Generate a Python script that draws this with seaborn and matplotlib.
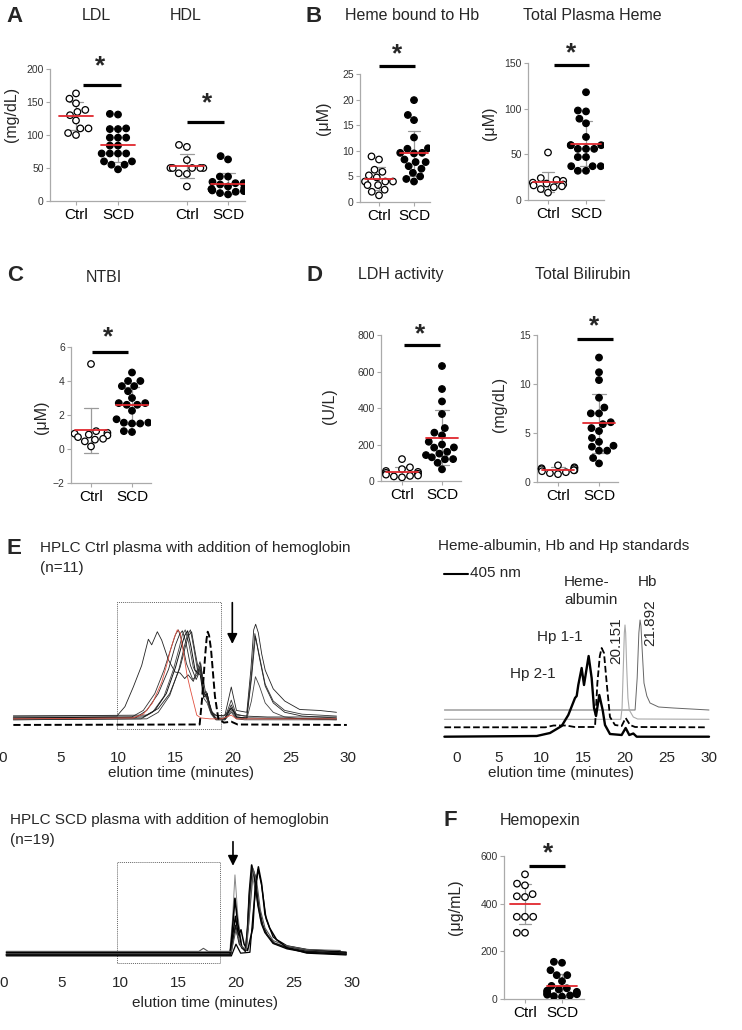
import numpy as np
import pandas as pd
import matplotlib
matplotlib.use("Agg")
import matplotlib.pyplot as plt
from matplotlib.patches import Rectangle
from matplotlib.lines import Line2D
import seaborn as sns

# ---------------- dot plot data ----------------
ldl_ctrl = [163, 155, 148, 138, 135, 130, 122, 110, 110, 103, 100]
ldl_scd = [132, 131, 110, 109, 109, 96, 96, 96, 84, 84, 72, 72, 72, 72, 60, 60, 55, 55, 48]
hdl_ctrl = [85, 82, 62, 50, 50, 50, 50, 50, 42, 41, 22]
hdl_scd = [68, 63, 37, 37, 29, 27, 27, 25, 22, 20, 20, 18, 18, 17, 16, 15, 14, 12, 10]

hemehb_ctrl = [8.9, 8.3, 6.3, 5.9, 5.2, 4.8, 4.0, 4.0, 4.0, 3.3, 3.3, 2.4, 2.0, 1.3]
hemehb_scd = [19.9, 17.0, 16.0, 12.6, 10.5, 10.4, 9.6, 9.6, 9.5, 8.3, 7.8, 7.8, 7.0, 6.5, 5.7, 5.0, 4.5, 4.0]
totheme_ctrl = [52, 24, 22, 21, 19, 18, 17, 16, 15, 14, 12, 8]
totheme_scd = [118, 98, 97, 89, 84, 69, 60, 60, 60, 56, 56, 56, 47, 47, 37, 37, 37, 32, 32]

ntbi_ctrl = [5.0, 1.05, 0.95, 0.9, 0.85, 0.8, 0.7, 0.6, 0.55, 0.45, 0.15]
ntbi_scd = [4.5, 4.0, 4.0, 3.7, 3.7, 3.4, 3.0, 2.7, 2.7, 2.6, 2.6, 2.25, 1.75, 1.55, 1.55, 1.5, 1.5, 1.05, 1.0]

ldh_ctrl = [120, 75, 65, 55, 50, 45, 40, 35, 30, 28, 25, 20]
ldh_scd = [630, 504, 436, 367, 290, 265, 250, 215, 200, 184, 183, 160, 150, 142, 130, 120, 119, 100, 64]
bili_ctrl = [1.7, 1.5, 1.4, 1.4, 1.3, 1.2, 1.2, 1.1, 1.0, 0.9, 0.8]
bili_scd = [12.7, 11.2, 10.4, 8.6, 7.6, 7.0, 7.0, 6.1, 5.9, 5.5, 5.2, 4.5, 4.1, 3.7, 3.6, 3.2, 3.2, 2.45, 1.9]

hpx_ctrl = [523, 484, 477, 440, 431, 428, 345, 345, 345, 278, 278]
hpx_scd = [156, 152, 121, 100, 100, 75, 55, 45, 40, 35, 30, 30, 25, 22, 20, 18, 15, 12, 10]

# ---------------- HPLC traces (time in min, absorbance in arbitrary units) ----------------
# Ctrl plasma + Hb
ctrl_broad_t = [0.9, 9.9, 10.6, 11.33, 12.06, 12.64, 12.93, 13.42, 13.8, 14.38, 14.96, 15.4, 15.8, 16.1,
                16.55, 17.13, 17.57, 18.0, 18.43, 19.2, 19.83, 20.3, 21.0, 23.0, 26.0, 29.0]
ctrl_broad_y = [0.06, 0.06, 0.16, 0.37, 0.6, 0.88, 0.82, 0.96, 0.87, 0.66, 0.53, 0.52, 0.46, 0.5,
                0.43, 0.64, 0.34, 0.12, 0.07, 0.06, 0.14, 0.08, 0.06, 0.05, 0.05, 0.05]
ctrl_m1_t = [0.9, 11.2, 12.2, 13.2, 14.0, 14.65, 15.0, 15.25, 15.55, 15.95, 16.5, 16.9, 17.15, 17.45, 17.7,
             18.1, 18.5, 19.3, 19.85, 20.3, 21.2, 21.6, 21.9, 22.3, 22.8, 23.5, 24.5, 26.0, 29.0]
ctrl_m1_y = [0.04, 0.05, 0.12, 0.3, 0.55, 0.8, 0.93, 0.98, 0.86, 0.62, 0.45, 0.5, 0.6, 0.3, 0.32,
             0.12, 0.04, 0.04, 0.23, 0.07, 0.06, 0.5, 0.94, 0.7, 0.4, 0.22, 0.12, 0.08, 0.06]
ctrl_m2_t = [0.9, 11.5, 12.5, 13.5, 14.4, 15.0, 15.35, 15.6, 15.9, 16.3, 16.8, 17.15, 17.45, 17.75, 18.1,
             18.5, 19.3, 19.85, 20.3, 21.2, 21.6, 21.95, 22.3, 22.8, 23.5, 24.5, 26.0, 29.0]
ctrl_m2_y = [0.03, 0.04, 0.12, 0.3, 0.56, 0.82, 0.93, 0.97, 0.85, 0.6, 0.45, 0.55, 0.28, 0.3, 0.1,
             0.03, 0.03, 0.18, 0.05, 0.04, 0.45, 0.91, 0.68, 0.38, 0.2, 0.1, 0.06, 0.04]
ctrl_m3_t = [0.9, 12.0, 13.0, 14.0, 14.8, 15.35, 15.6, 15.85, 16.15, 16.55, 16.9, 17.15, 17.45, 17.75,
             18.1, 18.5, 19.3, 19.85, 20.3, 21.2, 21.6, 21.95, 22.3, 22.8, 23.5, 24.5, 26.0, 29.0]
ctrl_m3_y = [0.02, 0.03, 0.1, 0.27, 0.55, 0.8, 0.93, 0.98, 0.84, 0.58, 0.5, 0.58, 0.25, 0.2,
             0.08, 0.02, 0.02, 0.12, 0.04, 0.03, 0.22, 0.48, 0.38, 0.2, 0.1, 0.05, 0.03, 0.02]
ctrl_m4_t = [0.9, 12.2, 13.2, 14.2, 15.0, 15.55, 15.8, 16.05, 16.35, 16.7, 17.15, 17.45, 17.75, 18.1,
             18.5, 19.3, 19.85, 20.3, 21.0, 29.0]
ctrl_m4_y = [0.04, 0.05, 0.12, 0.3, 0.58, 0.82, 0.92, 0.97, 0.8, 0.55, 0.5, 0.26, 0.3, 0.1,
             0.03, 0.03, 0.15, 0.05, 0.04, 0.03]
ctrl_m5_t = [0.9, 12.5, 13.5, 14.5, 15.3, 15.8, 16.05, 16.3, 16.6, 16.95, 17.2, 17.5, 17.8, 18.15,
             18.55, 19.3, 19.85, 20.3, 21.0, 29.0]
ctrl_m5_y = [0.02, 0.03, 0.1, 0.28, 0.56, 0.82, 0.93, 0.98, 0.78, 0.52, 0.62, 0.3, 0.22, 0.08,
             0.02, 0.02, 0.1, 0.03, 0.02, 0.02]
ctrl_m6_t = [0.9, 12.5, 13.5, 14.5, 15.4, 15.9, 16.15, 16.4, 16.7, 17.0, 17.2, 17.5, 17.8, 18.2, 18.6,
             19.3, 19.85, 20.3, 21.2, 21.55, 21.8, 21.97, 22.2, 22.5, 22.8, 23.5, 24.5, 25.8, 27.5, 29.0]
ctrl_m6_y = [0.06, 0.07, 0.14, 0.3, 0.58, 0.82, 0.92, 0.96, 0.75, 0.55, 0.55, 0.3, 0.25, 0.1, 0.06,
             0.07, 0.37, 0.12, 0.1, 0.55, 0.98, 1.04, 0.95, 0.72, 0.55, 0.35, 0.22, 0.13, 0.12, 0.1]
ctrl_red_t = [0.9, 11.3, 12.2, 13.0, 13.8, 14.2, 14.6, 14.9, 15.16, 15.4, 15.7, 16.0, 16.3, 16.85, 17.2,
              18.0, 19.0, 19.85, 20.3, 21.0, 29.0]
ctrl_red_y = [0.03, 0.04, 0.08, 0.2, 0.42, 0.59, 0.78, 0.9, 0.98, 0.95, 0.73, 0.5, 0.34, 0.07, 0.04,
              0.03, 0.03, 0.07, 0.03, 0.03, 0.03]
ctrl_dash_t = [0.9, 17.1, 17.3, 17.57, 17.7, 17.8, 17.92, 18.09, 18.43, 18.72, 19.2, 19.85, 20.4, 29.9]
ctrl_dash_y = [-0.035, -0.03, 0.23, 0.69, 0.88, 0.96, 0.92, 0.77, 0.27, 0.035, -0.01, 0.0, -0.03, -0.035]

# standards
hb_std_t = [-1.5, 21.2, 21.45, 21.65, 21.79, 21.9, 22.0, 22.26, 22.6, 22.98, 24.0, 25.75, 30.0]
hb_std_y = [0.28, 0.28, 0.6, 1.05, 1.18, 1.12, 0.95, 0.55, 0.42, 0.35, 0.31, 0.3, 0.28]
ha_std_t = [-1.5, 19.5, 19.65, 19.8, 19.92, 20.0, 20.08, 20.2, 20.35, 20.51, 20.99, 21.5, 30.0]
ha_std_y = [0.187, 0.187, 0.3, 0.71, 1.05, 1.13, 1.05, 0.71, 0.4, 0.28, 0.21, 0.19, 0.187]
hp11_t = [-1.5, 10.5, 11.5, 13.0, 14.0, 16.43, 16.71, 17.0, 17.22, 17.5, 17.82, 18.21, 18.81, 19.6,
          20.08, 20.6, 21.2, 29.6]
hp11_y = [0.107, 0.107, 0.125, 0.125, 0.11, 0.11, 0.55, 0.82, 0.9, 0.85, 0.55, 0.21, 0.13, 0.12,
          0.2, 0.13, 0.11, 0.107]
hp21_t = [-1.5, 9.49, 11.07, 12.46, 13.25, 14.05, 14.25, 14.44, 14.84, 15.12, 15.44, 15.67, 16.03, 16.31,
          16.55, 16.94, 17.34, 17.62, 18.21, 19.6, 20.08, 20.51, 20.99, 21.39, 30.0]
hp21_y = [0.013, 0.02, 0.05, 0.12, 0.23, 0.4, 0.42, 0.53, 0.7, 0.53, 0.7, 0.82, 0.6, 0.3,
          0.22, 0.43, 0.28, 0.13, 0.04, 0.03, 0.1, 0.03, 0.045, 0.013, 0.013]

# SCD plasma + Hb
scd_s1_t = [0.2, 19.45, 19.7, 19.91, 20.15, 20.5, 20.85, 21.1, 21.4, 21.7, 22.1, 22.5, 23.2, 24.4, 26.1, 29.5]
scd_s1_y = [0.02, 0.02, 0.4, 0.89, 0.45, 0.1, 0.06, 0.35, 0.88, 0.7, 0.4, 0.26, 0.14, 0.09, 0.05, 0.03]
scd_s2_t = [0.2, 19.5, 19.7, 19.91, 20.15, 20.5, 20.85, 21.0, 21.15, 21.35, 21.6, 21.9, 22.2, 22.5, 23.2,
            24.4, 26.1, 29.5]
scd_s2_y = [0.0, 0.0, 0.3, 0.63, 0.35, 0.08, 0.05, 0.3, 0.7, 1.0, 0.85, 0.55, 0.35, 0.25, 0.13,
            0.07, 0.03, 0.01]
scd_s3_t = [0.2, 19.5, 19.75, 19.95, 20.2, 20.43, 20.7, 21.0, 21.45, 21.65, 21.93, 22.2, 22.5, 22.9, 23.5,
            24.4, 26.1, 29.5]
scd_s3_y = [0.03, 0.03, 0.25, 0.43, 0.22, 0.28, 0.12, 0.05, 0.3, 0.75, 0.98, 0.8, 0.45, 0.3, 0.17,
            0.1, 0.06, 0.03]
scd_s4_t = [0.2, 19.55, 19.95, 20.3, 20.8, 21.0, 21.15, 21.4, 21.65, 21.95, 22.3, 22.7, 23.3, 24.4, 26.1, 29.5]
scd_s4_y = [0.01, 0.01, 0.33, 0.12, 0.04, 0.3, 0.65, 0.97, 0.88, 0.55, 0.33, 0.22, 0.13, 0.08, 0.04, 0.02]
scd_s5_t = [0.2, 16.8, 17.19, 17.6, 19.6, 20.0, 20.4, 20.9, 21.2, 21.5, 21.8, 22.1, 22.5, 23.2, 24.0,
            24.4, 26.1, 29.0]
scd_s5_y = [0.04, 0.04, 0.074, 0.04, 0.04, 0.28, 0.1, 0.06, 0.5, 0.95, 0.8, 0.5, 0.3, 0.16, 0.12,
            0.1, 0.06, 0.05]
scd_s6_t = [0.2, 19.6, 20.0, 20.4, 21.2, 21.5, 21.9, 22.2, 22.6, 23.2, 24.4, 26.1, 29.5]
scd_s6_y = [-0.01, -0.01, 0.12, 0.02, 0.03, 0.5, 0.95, 0.78, 0.4, 0.2, 0.08, 0.02, 0.0]

# ---------------- style ----------------
sns.set_style("ticks")
plt.rcParams["font.family"] = ["Liberation Sans", "DejaVu Sans"]

W, H = 742, 1030
fig = plt.figure(figsize=(W / 100, H / 100), dpi=100)

RED = "#e0282e"
PAL = {"Ctrl": "white", "SCD": "black"}


def px_ax(x0, y0, x1, y1):
    return fig.add_axes([x0 / W, 1 - y1 / H, (x1 - x0) / W, (y1 - y0) / H])


def ftext(x, y, s, **kw):
    kw.setdefault("va", "center")
    fig.text(x / W, 1 - y / H, s, **kw)


def style_dot_ax(ax):
    sns.despine(ax=ax)
    for sp in ("left", "bottom"):
        ax.spines[sp].set_color("#aaaaaa")
        ax.spines[sp].set_linewidth(0.9)
    ax.tick_params(axis="y", labelsize=7.5, labelcolor="#333333", color="#aaaaaa",
                   length=3, width=0.8, pad=1.5)
    ax.tick_params(axis="x", labelsize=11, labelcolor="black", color="#aaaaaa",
                   length=3, width=0.8, pad=2)
    ax.set_xlabel("")
    ax.set_ylabel("")


def mean_sd(ax, pos, vals):
    m = np.mean(vals)
    s = np.std(vals, ddof=1)
    ax.plot([pos, pos], [m - s, m + s], color="#9a9a9a", lw=0.9, zorder=2)
    for yy in (m - s, m + s):
        ax.plot([pos - 0.17, pos + 0.17], [yy, yy], color="#9a9a9a", lw=0.9, zorder=2)
    ax.plot([pos - 0.4, pos + 0.4], [m, m], color=RED, lw=1.3, zorder=5)


def sig(ax, xa, xb, yb, xs, ys):
    ax.plot([xa, xb], [yb, yb], color="black", lw=2.3, clip_on=False,
            solid_capstyle="butt", zorder=6)
    ax.text(xs, ys, "*", ha="center", va="center", fontsize=19, fontweight="bold",
            clip_on=False)


def dot_panel(box, ctrl, scd, ylim, yticks, sigspec):
    x0, x1, ytop, ybot, cx, unit = box
    ax = px_ax(x0, ytop, x1, ybot)
    df = pd.DataFrame({"group": ["Ctrl"] * len(ctrl) + ["SCD"] * len(scd),
                       "value": list(ctrl) + list(scd)})
    sns.swarmplot(data=df, x="group", y="value", hue="group", order=["Ctrl", "SCD"],
                  palette=PAL, size=4.7, edgecolor="black", linewidth=0.9, legend=False,
                  ax=ax, zorder=3)
    mean_sd(ax, 0, ctrl)
    mean_sd(ax, 1, scd)
    ax.set_xlim(-(cx - x0) / unit, (x1 - cx) / unit)
    ax.set_ylim(*ylim)
    ax.set_yticks(yticks)
    ax.set_xticks([0, 1])
    ax.set_xticklabels(["Ctrl", "SCD"])
    style_dot_ax(ax)
    sig(ax, *sigspec)
    return ax


# ---------------- Panel A ----------------
axA = px_ax(50, 69, 245, 201)
posA = {"LDL": (0.0, 1.0), "HDL": (2.64, 3.62)}
rows = []
for lip, (c, s) in (("LDL", (ldl_ctrl, ldl_scd)), ("HDL", (hdl_ctrl, hdl_scd))):
    rows += [(posA[lip][0], v, "Ctrl") for v in c]
    rows += [(posA[lip][1], v, "SCD") for v in s]
dfA = pd.DataFrame(rows, columns=["pos", "value", "group"])
sns.swarmplot(data=dfA, x="pos", y="value", hue="group", native_scale=True, palette=PAL,
              size=4.7, edgecolor="black", linewidth=0.9, legend=False, ax=axA, zorder=3)
for vals, p in ((ldl_ctrl, 0.0), (ldl_scd, 1.0), (hdl_ctrl, 2.64), (hdl_scd, 3.62)):
    mean_sd(axA, p, vals)
axA.set_xlim(-26 / 42, 169 / 42)
axA.set_ylim(0, 200)
axA.set_yticks([0, 50, 100, 150, 200])
axA.set_xticks([0, 1, 2.64, 3.62])
axA.set_xticklabels(["Ctrl", "SCD", "Ctrl", "SCD"])
style_dot_ax(axA)
sig(axA, 0.17, 1.07, 175, 0.57, 204)
sig(axA, 2.64, 3.52, 120, 3.12, 148)

# ---------------- Panels B, C, D, F ----------------
dot_panel((360, 430, 74, 202, 379, 35), hemehb_ctrl, hemehb_scd, (0, 25), [0, 5, 10, 15, 20, 25],
          (0.0, 1.03, 26.6, 0.51, 28.9))
dot_panel((528, 604, 63, 200, 548, 38), totheme_ctrl, totheme_scd, (0, 150), [0, 50, 100, 150],
          (0.16, 1.08, 148, 0.6, 161))
dot_panel((71, 151, 347, 483, 91, 41), ntbi_ctrl, ntbi_scd, (-2, 6), [-2, 0, 2, 4, 6],
          (0.03, 0.9, 5.7, 0.41, 6.55))
dot_panel((381, 461, 335, 481, 402, 40), ldh_ctrl, ldh_scd, (0, 800), [0, 200, 400, 600, 800],
          (0.05, 0.95, 745, 0.45, 805))
dot_panel((537, 618, 335, 482, 558, 41), bili_ctrl, bili_scd, (0, 15), [0, 5, 10, 15],
          (0.46, 1.34, 14.6, 0.88, 15.9))
dot_panel((504, 584, 856, 999, 525, 37), hpx_ctrl, hpx_scd, (0, 600), [0, 200, 400, 600],
          (0.1, 1.08, 558, 0.62, 612))


# ---------------- HPLC panels ----------------
def hplc_ax(box, xlim, ylim):
    ax = px_ax(*box)
    ax.set_xlim(*xlim)
    ax.set_ylim(*ylim)
    for sp in ax.spines.values():
        sp.set_visible(False)
    ax.set_yticks([])
    ax.set_xticks([0, 5, 10, 15, 20, 25, 30])
    ax.tick_params(axis="x", length=0, labelsize=11, pad=4)
    return ax


def trace(ax, t, y, color="black", lw=0.8, ls="-"):
    sns.lineplot(x=t, y=y, ax=ax, color=color, linewidth=lw, linestyle=ls,
                 estimator=None, sort=False)


axE1 = hplc_ax((0, 595, 360, 745), (-3 / 11.5, 357 / 11.5), (-0.249, 1.352))
for t, y, c, lw in ((ctrl_broad_t, ctrl_broad_y, "#222222", 0.6),
                    (ctrl_m1_t, ctrl_m1_y, "#333333", 0.6),
                    (ctrl_m2_t, ctrl_m2_y, "#222222", 0.6),
                    (ctrl_m3_t, ctrl_m3_y, "#444444", 0.6),
                    (ctrl_m4_t, ctrl_m4_y, "#111111", 0.7),
                    (ctrl_m5_t, ctrl_m5_y, "#333333", 0.6),
                    (ctrl_m6_t, ctrl_m6_y, "#222222", 0.6),
                    (ctrl_red_t, ctrl_red_y, "#e05040", 0.6)):
    trace(axE1, t, y, c, lw)
trace(axE1, ctrl_dash_t, ctrl_dash_y, "black", 1.4, "--")
axE1.add_patch(Rectangle((9.89, -0.078), 18.96 - 9.89, 1.277 + 0.078, fill=False,
                         ls=(0, (1, 1)), lw=0.7, ec="#666666"))
axE1.annotate("", xy=(19.94, 0.80), xytext=(19.94, 1.30),
              arrowprops=dict(arrowstyle="-|>", color="black", lw=1.2, mutation_scale=15))

axE2 = hplc_ax((437, 600, 720, 745), (-20 / 8.4, 263 / 8.4), (-0.07, 1.38))
trace(axE2, hb_std_t, hb_std_y, "#666666", 0.7)
trace(axE2, ha_std_t, ha_std_y, "#aaaaaa", 0.8)
trace(axE2, hp11_t, hp11_y, "black", 1.3, "--")
trace(axE2, hp21_t, hp21_y, "black", 1.7)

axE3 = hplc_ax((0, 830, 360, 970), (-4 / 11.6, 356 / 11.6), (-0.167, 1.389))
for t, y, c, lw in ((scd_s1_t, scd_s1_y, "#888888", 0.7),
                    (scd_s2_t, scd_s2_y, "black", 1.2),
                    (scd_s3_t, scd_s3_y, "black", 1.1),
                    (scd_s4_t, scd_s4_y, "#111111", 1.1),
                    (scd_s5_t, scd_s5_y, "#555555", 0.8),
                    (scd_s6_t, scd_s6_y, "black", 0.9)):
    trace(axE3, t, y, c, lw)
axE3.add_patch(Rectangle((9.74, -0.089), 18.62 - 9.74, 1.033 + 0.089, fill=False,
                         ls=(0, (1, 1)), lw=0.7, ec="#666666"))
axE3.annotate("", xy=(19.74, 0.96), xytext=(19.74, 1.29),
              arrowprops=dict(arrowstyle="-|>", color="black", lw=1.2, mutation_scale=15))

# ---------------- texts ----------------
for letter, x, y in (("A", 15, 16), ("B", 314, 16), ("C", 15, 276), ("D", 315, 276),
                     ("E", 14, 549), ("F", 450, 821)):
    ftext(x, y, letter, ha="center", fontsize=16, fontweight="bold")

for s, x, y in (("LDL", 96, 15), ("HDL", 186, 15), ("Heme bound to Hb", 412, 15),
                ("Total Plasma Heme", 592, 15), ("NTBI", 104, 277), ("LDH activity", 401, 274),
                ("Total Bilirubin", 583, 274), ("Hemopexin", 540, 821)):
    ftext(x, y, s, ha="center", fontsize=11.5)

for s, x, y in (("(mg/dL)", 12, 114), ("(\u03bcM)", 323, 118), ("(\u03bcM)", 489, 123),
                ("(\u03bcM)", 42, 417), ("(U/L)", 329, 406), ("(mg/dL)", 499, 404),
                ("(\u03bcg/mL)", 455, 907)):
    ftext(x, y, s, ha="center", rotation=90, fontsize=11.5)

ftext(40, 548, "HPLC Ctrl plasma with addition of hemoglobin", ha="left", fontsize=11)
ftext(40, 568, "(n=11)", ha="left", fontsize=11)
ftext(438, 546, "Heme-albumin, Hb and Hp standards", ha="left", fontsize=11)
ftext(10, 820, "HPLC SCD plasma with addition of hemoglobin", ha="left", fontsize=11)
ftext(10, 840, "(n=19)", ha="left", fontsize=11)

for x, y in ((181, 773), (561, 773), (205, 1003)):
    ftext(x, y, "elution time (minutes)", ha="center", fontsize=11)

fig.add_artist(Line2D([444 / W, 468 / W], [1 - 574 / H] * 2, color="black", lw=1.5))
ftext(470, 573, "405 nm", ha="left", fontsize=11)
ftext(564, 582, "Heme-", ha="left", fontsize=11)
ftext(564, 600, "albumin", ha="left", fontsize=11)
ftext(638, 582, "Hb", ha="left", fontsize=11)
ftext(537, 637, "Hp 1-1", ha="left", fontsize=11)
ftext(510, 674, "Hp 2-1", ha="left", fontsize=11)
ftext(616, 641, "20.151", ha="center", rotation=90, fontsize=11)
ftext(650, 623, "21.892", ha="center", rotation=90, fontsize=11)

fig.savefig("out.png", dpi=100)
